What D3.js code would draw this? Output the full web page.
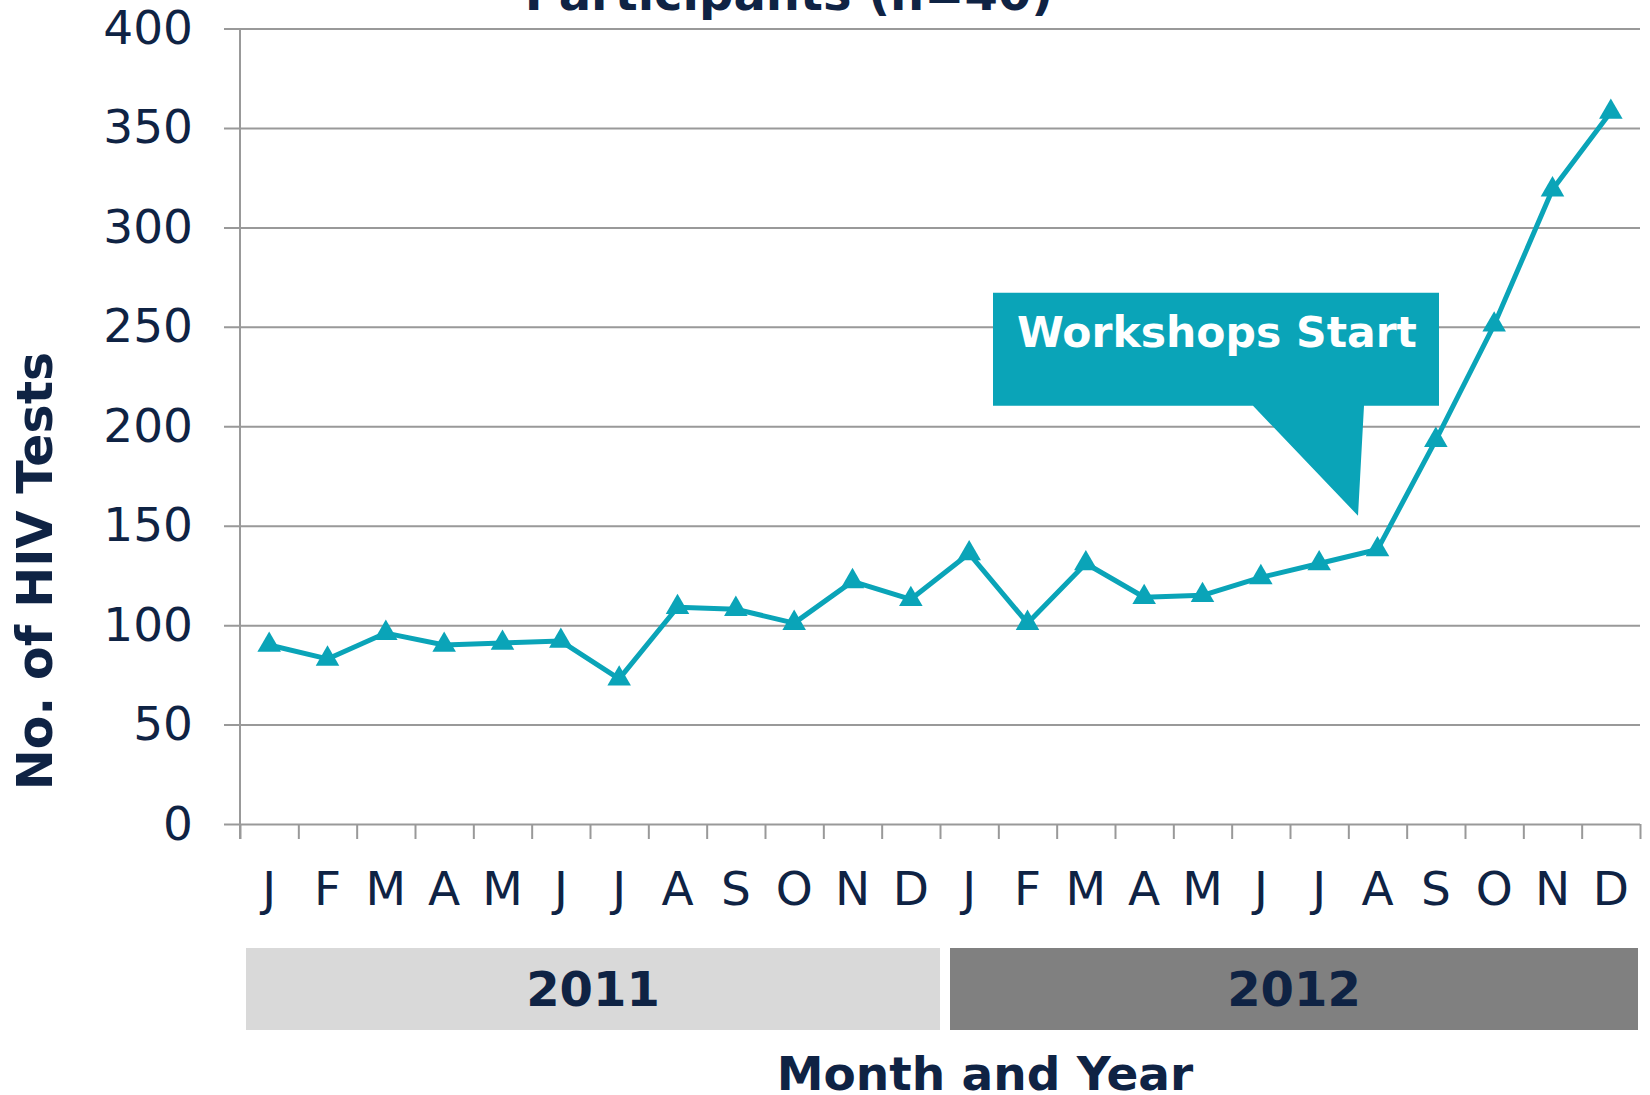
<!DOCTYPE html>
<html>
<head>
<meta charset="utf-8">
<script src="https://cdn.jsdelivr.net/npm/d3@7"></script>
<style>
  html, body { margin: 0; padding: 0; background: #fff; }
  svg text { font-family: "DejaVu Sans", Verdana, sans-serif; }
</style>
</head>
<body>
<div id="chart"></div>
<script>
// ---------------------------------------------------------------
// data
var months = ["J","F","M","A","M","J","J","A","S","O","N","D",
              "J","F","M","A","M","J","J","A","S","O","N","D"];
var tests  = [90, 83, 96, 90, 91, 92, 73, 109, 108, 101, 122, 113,
              136, 101, 131, 114, 115, 124, 131, 138, 193, 251, 319, 358];
var years  = ["2011", "2012"];
var yTicks = [0, 50, 100, 150, 200, 250, 300, 350, 400];
var calloutText = "Workshops Start";

// ---------------------------------------------------------------
var largeur = 1650, hauteur = 1095;
var bleu = "#0f2344", teal = "#0aa4b8", gris = "#999999";

var svg = d3.select("#chart").append("svg")
  .attr("width", largeur)
  .attr("height", hauteur);

var y = d3.scaleLinear().domain([0, 400]).range([824, 28.5]);
var xEdge = d3.scaleLinear().domain([0, months.length]).range([240, 1640]);
var x = d3.scaleBand().domain(d3.range(months.length)).range([240, 1640]);

// gridlines + y labels
var yAxis = svg.append("g")
  .attr("transform", "translate(224,0)")
  .call(d3.axisLeft(y).tickValues(yTicks).tickSize(-1416).tickPadding(31));
yAxis.select(".domain").remove();
yAxis.selectAll("line").attr("stroke", gris).attr("stroke-width", 2);
yAxis.selectAll("text")
  .attr("fill", bleu)
  .attr("font-size", "47px")
  .attr("font-family", "DejaVu Sans");

// axe vertical
svg.append("line")
  .attr("x1", 240).attr("x2", 240)
  .attr("y1", y(400)).attr("y2", 839)
  .attr("stroke", gris).attr("stroke-width", 2);

// ticks bas
var xTicks = svg.append("g")
  .attr("transform", "translate(0," + y(0) + ")")
  .call(d3.axisBottom(xEdge).tickValues(d3.range(months.length + 1)).tickSize(15).tickFormat(""));
xTicks.select(".domain").remove();
xTicks.selectAll("line").attr("stroke", gris).attr("stroke-width", 2);

// labels des mois
svg.selectAll(".mois")
  .data(months)
  .enter()
  .append("text")
  .attr("class", "mois")
  .attr("x", function(d, i){ return x(i) + x.bandwidth() / 2; })
  .attr("y", 905)
  .attr("text-anchor", "middle")
  .attr("font-size", "47px")
  .attr("fill", bleu)
  .text(function(d){ return d; });

// bandes des annees
var bandes = svg.selectAll(".annee")
  .data(years)
  .enter()
  .append("g")
  .attr("class", "annee");
bandes.append("rect")
  .attr("x", function(d, i){ return xEdge(i * 12) + (i == 0 ? 6 : 10); })
  .attr("width", function(d, i){ return xEdge(i * 12 + 12) - xEdge(i * 12) - (i == 0 ? 6 : 12); })
  .attr("y", 948)
  .attr("height", 82)
  .attr("fill", function(d, i){ return i == 0 ? "#d9d9d9" : "#808080"; });
bandes.append("text")
  .attr("x", function(d, i){ return (xEdge(i * 12) + xEdge(i * 12 + 12)) / 2 + (i == 0 ? 3 : 4); })
  .attr("y", 1006)
  .attr("text-anchor", "middle")
  .attr("font-size", "48px")
  .attr("font-weight", "bold")
  .attr("fill", bleu)
  .text(function(d){ return d; });

// ligne
var line = d3.line()
  .x(function(d, i){ return x(i) + x.bandwidth() / 2; })
  .y(function(d){ return y(d); });
svg.append("path")
  .datum(tests)
  .attr("d", line)
  .attr("fill", "none")
  .attr("stroke", teal)
  .attr("stroke-width", 5)
  .attr("stroke-linejoin", "round");

svg.selectAll(".point")
  .data(tests)
  .enter()
  .append("path")
  .attr("class", "point")
  .attr("d", d3.symbol().type(d3.symbolTriangle).size(240))
  .attr("fill", teal)
  .attr("transform", function(d, i){
    return "translate(" + (x(i) + x.bandwidth() / 2) + "," + y(d) + ")";
  });

// bulle "Workshops Start"
var tipX = x(19) + x.bandwidth() / 2 - 19.5, tipY = y(155);
var bx0 = tipX - 365, bx1 = tipX + 81, by0 = tipY - 223, by1 = tipY - 110;
svg.append("path")
  .attr("d", "M" + bx0 + "," + by0 + "H" + bx1 + "V" + by1 +
             "H" + (tipX + 6) + "L" + tipX + "," + tipY +
             "L" + (tipX - 105) + "," + by1 + "H" + bx0 + "Z")
  .attr("fill", teal);
svg.append("text")
  .attr("x", bx0 + 24)
  .attr("y", by0 + 54)
  .attr("font-size", "42.5px")
  .attr("font-weight", "bold")
  .attr("fill", "#ffffff")
  .text(calloutText);

// titres
svg.append("text")
  .attr("x", 789).attr("y", 10)
  .attr("text-anchor", "middle")
  .attr("font-size", "48px")
  .attr("font-weight", "bold")
  .attr("fill", bleu)
  .text("Participants (n=40)");

svg.append("text")
  .attr("transform", "translate(52,571) rotate(-90)")
  .attr("text-anchor", "middle")
  .attr("font-size", "49px")
  .attr("font-weight", "bold")
  .attr("fill", bleu)
  .text("No. of HIV Tests");

svg.append("text")
  .attr("x", 985).attr("y", 1090)
  .attr("text-anchor", "middle")
  .attr("font-size", "47px")
  .attr("font-weight", "bold")
  .attr("fill", bleu)
  .text("Month and Year");
</script>
</body>
</html>
